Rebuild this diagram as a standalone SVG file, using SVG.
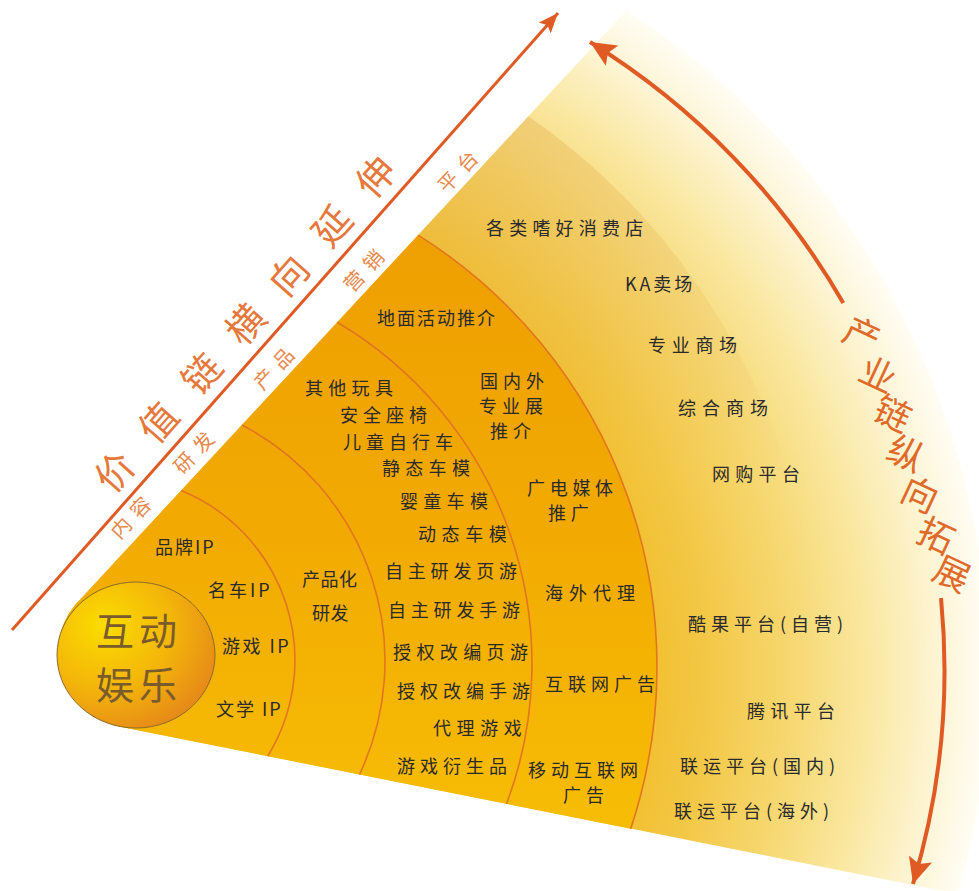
<svg xmlns="http://www.w3.org/2000/svg" width="979" height="891" viewBox="0 0 979 891">
<defs>
<radialGradient id="pale" gradientUnits="userSpaceOnUse" cx="199" cy="675" r="790">
<stop offset="0.56" stop-color="#F2BE2C"/>
<stop offset="0.64" stop-color="#F3C745"/>
<stop offset="0.74" stop-color="#F6D66C"/>
<stop offset="0.85" stop-color="#FAE8A2"/>
<stop offset="0.94" stop-color="#FDF5D6"/>
<stop offset="1" stop-color="#FFFDF4"/>
</radialGradient>
<linearGradient id="orange" gradientUnits="userSpaceOnUse" x1="0" y1="230" x2="0" y2="830">
<stop offset="0" stop-color="#EE9F02"/>
<stop offset="0.5" stop-color="#F2AA02"/>
<stop offset="1" stop-color="#F7BD05"/>
</linearGradient>
<linearGradient id="band" gradientUnits="userSpaceOnUse" x1="0" y1="120" x2="0" y2="480">
<stop offset="0" stop-color="#D9962E" stop-opacity="0.26"/>
<stop offset="1" stop-color="#D9962E" stop-opacity="0"/>
</linearGradient>
<radialGradient id="ball" cx="0.3" cy="0.3" r="0.8">
<stop offset="0" stop-color="#FBDD00"/>
<stop offset="0.55" stop-color="#F3B40A"/>
<stop offset="1" stop-color="#E5861A"/>
</radialGradient>
<marker id="headS" markerUnits="userSpaceOnUse" markerWidth="20" markerHeight="16" refX="20" refY="8" orient="auto">
<path d="M0,0 L20,8 L0,16 L4,8 Z" fill="#E05A24"/>
</marker>
<marker id="headL" markerUnits="userSpaceOnUse" markerWidth="27" markerHeight="24" refX="26" refY="12" orient="auto">
<path d="M0,0 L26,12 L0,24 L5,12 Z" fill="#E05A24"/>
</marker>
<style>
.t{font-family:"Noto Sans CJK SC","Noto Sans",sans-serif;font-size:18px;fill:#2A2A2A;dominant-baseline:central}
.arc{fill:none;stroke:#E2761E;stroke-width:1.6}
.lab{font-family:"Noto Sans CJK SC",sans-serif;font-size:20px;fill:#E8884A;dominant-baseline:central;text-anchor:middle}
.big{font-family:"Noto Sans CJK SC",sans-serif;font-size:38px;fill:#E5783A;dominant-baseline:central;text-anchor:middle}
.big2{font-family:"Noto Sans CJK SC",sans-serif;font-size:36px;fill:#E06A2A;dominant-baseline:central;text-anchor:middle}
.ctr{font-family:"Noto Sans CJK SC",sans-serif;font-size:38px;fill:#7A5C2C;dominant-baseline:central;text-anchor:middle}
.conn{fill:none;stroke:#E05A24}
</style>
</defs>

<g id="fan">
<path d="M82 597.4 L626.4 10.5 A790 790 0 0 1 958 894 L124 727.4 A78 76 0 0 1 82 597.4 Z" fill="url(#pale)"/>
<path d="M418.1 235.1 L528.4 116.2 A670 670 0 0 1 788.5 860.3 L630.7 828.7 A510 510 0 0 0 418.1 235.1 Z" fill="url(#band)"/>
<path d="M82 597.4 L418.1 235.1 A510 510 0 0 1 630.7 828.7 L124 727.4 A78 76 0 0 1 82 597.4 Z" fill="url(#orange)"/>
<path class="arc" d="M181.1 490.6 A183 183 0 0 1 267.7 756.1"/>
<path class="arc" d="M241.9 425 A266 266 0 0 1 359.5 774.5"/>
<path class="arc" d="M337.2 322.3 A397 397 0 0 1 506.5 803.9"/>
<path class="arc" d="M418.1 235.1 A510 510 0 0 1 630.7 828.7"/>
</g>

<g id="connectors">
<line class="conn" x1="12" y1="630" x2="558" y2="13" stroke-width="3" marker-end="url(#headS)"/>
<path class="conn" d="M843.3 303 A744 744 0 0 0 590 42" stroke-width="4" marker-end="url(#headL)"/>
<path class="conn" d="M941 598 A744 744 0 0 1 913 884" stroke-width="4" marker-end="url(#headL)"/>
</g>

<g id="value-chain-title">
<text class="big" transform="translate(113,470) rotate(-48.5)" x="0 65.6 131.2 196.8 262.4 328 393.6" y="0">价值链横向延伸</text>
</g>

<g id="stage-labels">
<text class="lab" transform="translate(130,517) rotate(-47)" x="-14 14" y="0">内容</text>
<text class="lab" transform="translate(193,452) rotate(-47)" x="-14 14" y="0">研发</text>
<text class="lab" transform="translate(273,368) rotate(-47)" x="-14 14" y="0">产品</text>
<text class="lab" transform="translate(363,270) rotate(-47)" x="-14 14" y="0">营销</text>
<text class="lab" transform="translate(457,171) rotate(-47)" x="-14 14" y="0">平台</text>
</g>

<g id="industry-chain-title">
<text class="big2" transform="translate(863,332) rotate(25)">产</text>
<text class="big2" transform="translate(879,372) rotate(25)">业</text>
<text class="big2" transform="translate(894,411) rotate(25)">链</text>
<text class="big2" transform="translate(907,451) rotate(25)">纵</text>
<text class="big2" transform="translate(921,492) rotate(25)">向</text>
<text class="big2" transform="translate(937,533) rotate(25)">拓</text>
<text class="big2" transform="translate(953,571) rotate(25)">展</text>
</g>

<g id="center-node">
<ellipse cx="136" cy="655" rx="79" ry="73" fill="url(#ball)" stroke="#8C6A2A" stroke-width="1"/>
<text class="ctr"><tspan x="115 158" y="628">互动</tspan><tspan x="115 158" y="682">娱乐</tspan></text>
</g>

<g id="ring-content">
<text class="t" x="155" y="546" letter-spacing="2">品牌IP</text>
<text class="t" x="208" y="589" letter-spacing="3">名车IP</text>
<text class="t" x="222" y="645" letter-spacing="2.5">游戏 IP</text>
<text class="t" x="216" y="708" letter-spacing="2">文学 IP</text>
</g>

<g id="ring-rnd">
<text class="t" letter-spacing="0.5"><tspan x="302" y="578">产品化</tspan><tspan x="312" y="612">研发</tspan></text>
</g>

<g id="ring-product">
<text class="t" x="305" y="387" letter-spacing="5.3">其他玩具</text>
<text class="t" x="340" y="414" letter-spacing="5">安全座椅</text>
<text class="t" x="343" y="441" letter-spacing="5">儿童自行车</text>
<text class="t" x="382" y="467" letter-spacing="5.3">静态车模</text>
<text class="t" x="400" y="500" letter-spacing="5.3">婴童车模</text>
<text class="t" x="418" y="533" letter-spacing="5.6">动态车模</text>
<text class="t" x="385" y="570" letter-spacing="4.8">自主研发页游</text>
<text class="t" x="388" y="609" letter-spacing="4.8">自主研发手游</text>
<text class="t" x="393" y="651" letter-spacing="5.4">授权改编页游</text>
<text class="t" x="397" y="690" letter-spacing="5">授权改编手游</text>
<text class="t" x="433" y="727" letter-spacing="5.6">代理游戏</text>
<text class="t" x="397" y="765" letter-spacing="5">游戏衍生品</text>
</g>

<g id="ring-marketing">
<text class="t" x="377" y="317" letter-spacing="2">地面活动推介</text>
<text class="t" letter-spacing="5"><tspan x="480" y="380">国内外</tspan><tspan x="479" y="405">专业展</tspan><tspan x="490" y="430">推介</tspan></text>
<text class="t" letter-spacing="4.7"><tspan x="527" y="487">广电媒体</tspan><tspan x="548" y="512">推广</tspan></text>
<text class="t" x="545" y="592" letter-spacing="6">海外代理</text>
<text class="t" x="545" y="683" letter-spacing="5">互联网广告</text>
<text class="t" letter-spacing="5"><tspan x="528" y="769">移动互联网</tspan><tspan x="563" y="794">广告</tspan></text>
</g>

<g id="ring-platform">
<text class="t" x="486" y="227" letter-spacing="5.2">各类嗜好消费店</text>
<text class="t" x="625" y="283" letter-spacing="3">KA卖场</text>
<text class="t" x="648" y="344" letter-spacing="5.7">专业商场</text>
<text class="t" x="678" y="407" letter-spacing="6">综合商场</text>
<text class="t" x="712" y="473" letter-spacing="5.3">网购平台</text>
<text class="t" x="688" y="623" letter-spacing="5">酷果平台(自营)</text>
<text class="t" x="747" y="710" letter-spacing="5.3">腾讯平台</text>
<text class="t" x="680" y="765" letter-spacing="5">联运平台(国内)</text>
<text class="t" x="674" y="810" letter-spacing="5">联运平台(海外)</text>
</g>
</svg>
